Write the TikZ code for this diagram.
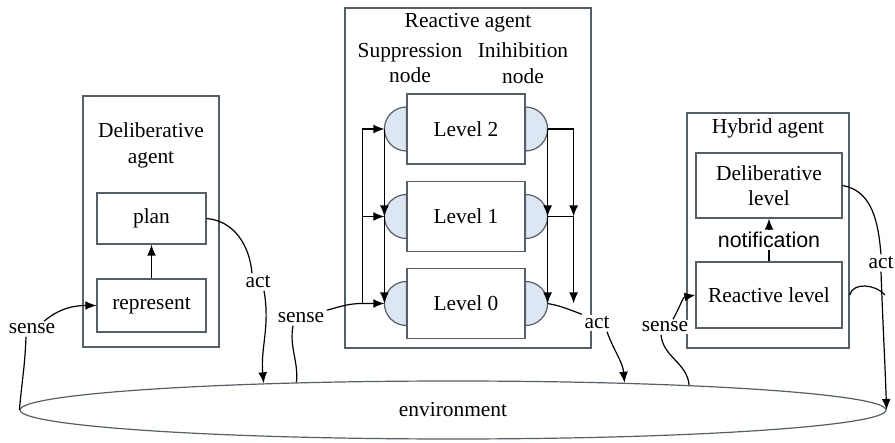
\documentclass[tikz,border=0pt]{standalone}
\usepackage{fontspec}
\setmainfont{Liberation Serif}
\newfontfamily\notefont{Liberation Sans}
\usetikzlibrary{arrows.meta,shapes.geometric}
\definecolor{boxline}{RGB}{85,95,105}
\definecolor{halffill}{RGB}{221,231,243}
\begin{document}
\begin{tikzpicture}[x=0.5pt,y=-0.5pt,line width=0.6pt,
    >={Latex[length=5.5pt,width=4.4pt]},
    every node/.style={font=\fontsize{10.7}{12.7}\selectfont},
    agentbox/.style={draw=boxline,inner sep=0pt},
    innerbox/.style={draw=boxline,align=center,inner sep=0pt},
    titletext/.style={align=center,inner sep=0pt},
    arrowlabel/.style={fill=white,inner sep=1pt},
    halfdisc/.style={draw=boxline,fill=halffill}]
  \useasboundingbox (0,0) rectangle (895,443);
  \node[draw=boxline,ellipse,minimum width=433pt,minimum height=29pt,inner sep=0pt] (env) at (453,410) {environment};

  \node[agentbox,minimum width=68pt,minimum height=125.5pt] (delib) at (151,221.5) {};
  \node[titletext] (delibtitle) at (151,145.5) {Deliberative\\agent};
  \node[innerbox,minimum width=54.5pt,minimum height=25.5pt] (plan) at (151.5,218.5) {plan};
  \node[innerbox,minimum width=54.5pt,minimum height=26.5pt] (represent) at (151.5,305.5) {represent};
  \draw[->] (represent) -- (plan);

  \node[agentbox,minimum width=123pt,minimum height=170pt] (react) at (468,178) {};
  \node[titletext] (reacttitle) at (468,23) {Reactive agent};
  \node[titletext] (supp) at (410,63) {Suppression\\node};
  \node[titletext] (inhib) at (523,63) {Inihibition\\node};
  \foreach \i/\y in {2/129,1/216.5,0/303.5}{
    \node[innerbox,minimum width=59pt,minimum height=35pt] (L\i) at (466,\y) {Level \i};
    \filldraw[halfdisc] ([yshift=11pt]L\i.west) arc[start angle=90,end angle=270,radius=11pt] -- cycle;
    \filldraw[halfdisc] ([yshift=11pt]L\i.east) arc[start angle=90,end angle=-90,radius=11pt] -- cycle;
    \coordinate (s\i) at ([xshift=-11pt]L\i.west);
    \coordinate (i\i) at ([xshift=11pt]L\i.east);
    \coordinate (j\i) at ([xshift=-11pt]s\i);
    \coordinate (k\i) at ([xshift=13pt]i\i);
  }
  \draw (j0) -- (j2);
  \draw[->] (j2) -- (s2);
  \draw[->] (j1) -- (s1);
  \draw[->] (s2) -- (s1);
  \draw[->] (s1) -- (s0);
  \draw[->] (i2) -- (i1);
  \draw[->] (i1) -- (i0);
  \draw (i2) -- (k2);
  \draw (i1) -- (k1);
  \draw[->] (k2) -- (k1);
  \draw[->] (k1) -- (k0);

  \node[agentbox,minimum width=81pt,minimum height=117.5pt] (hybrid) at (768,230.5) {};
  \node[titletext] (hybridtitle) at (768,128) {Hybrid agent};
  \node[innerbox,minimum width=73pt,minimum height=32.5pt] (delevel) at (769,185.5) {Deliberative\\level};
  \node[innerbox,minimum width=73pt,minimum height=33pt] (relevel) at (769,295) {Reactive level};
  \draw[->] (relevel) -- (delevel) node[midway,arrowlabel,font=\notefont\fontsize{10.7}{12.7}\selectfont] (note) {notification};

  \node[arrowlabel] (sense1) at (32,329) {sense};
  \draw[->] ([xshift=6pt]sense1.north) to[out=40,in=180] (represent.west);
  \draw ([xshift=-3pt]sense1.south) to[out=-92,in=85] (env.west);
  \node[arrowlabel] (act1) at (258,282) {act};
  \draw (plan.east) to[out=-5,in=95] ([xshift=-3pt]act1.north);
  \draw[->] ([xshift=3pt]act1.south) to[out=-80,in=95] (env.172.25);

  \node[arrowlabel] (sense2) at (301,318) {sense};
  \draw[->] (sense2.north east) to[out=15,in=180] (j0) -- (s0);
  \draw ([xshift=-4pt]sense2.south) to[out=-100,in=85] (env.170.9);
  \node[arrowlabel] (act2) at (597,323) {act};
  \draw (i0) to[out=-10,in=160] (act2.north west);
  \draw[->] ([xshift=5pt]act2.south) to[out=-70,in=95] (env.9.28);

  \node[arrowlabel] (sense3) at (665,327) {sense};
  \draw[->] ([xshift=4pt]sense3.north) to[out=60,in=190] (relevel.west);
  \draw ([xshift=-2pt]sense3.south) to[out=-85,in=95] (env.6.8);
  \node[arrowlabel] (act3) at (881,263) {act};
  \draw (delevel.east) to[out=-10,in=95] (act3.north);
  \draw (hybrid.east |- relevel.east) to[out=75,in=130] ([xshift=2pt]act3.south |- relevel.east);
  \draw[->] (act3.south) to[out=-88,in=92] (env.east);
\end{tikzpicture}
\end{document}
